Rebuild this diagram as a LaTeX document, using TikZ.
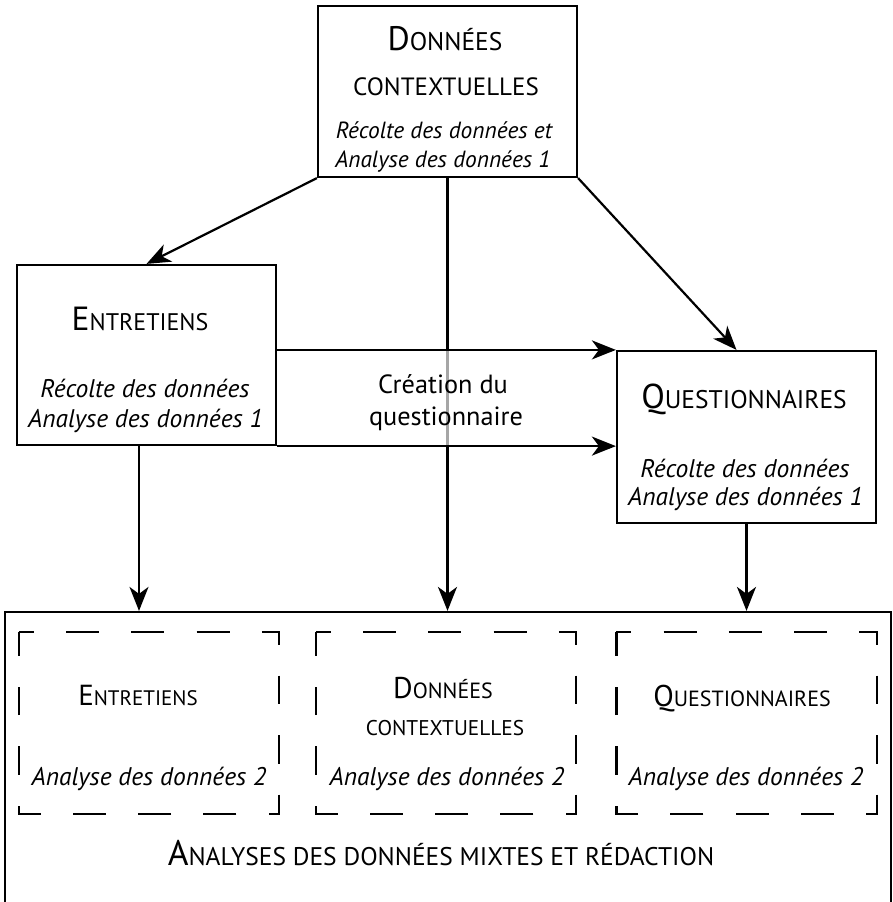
\documentclass[tikz,border=0pt]{standalone}
\usepackage{fontspec}
\setmainfont{PT Sans}
\usetikzlibrary{arrows.meta}
\newcommand{\mycaps}[4]{{\fontsize{#1}{#1}\selectfont #3}{\fontsize{#2}{#2}\selectfont #4}}
\begin{document}
\begin{tikzpicture}[x=1pt,y=-1pt,line width=2.2pt,
  box/.style={draw,line width=2.2pt,inner sep=0pt,minimum width=259pt},
  hold/.style={inner sep=0pt,minimum width=258pt,minimum height=180pt},
  arr/.style={-{Stealth[length=24pt,width=19pt,inset=7pt]},line width=2.2pt},
  ital/.style={anchor=base,inner sep=0pt,font=\fontsize{25.5}{25.5}\selectfont\itshape},
  itsm/.style={anchor=base,inner sep=0pt,font=\fontsize{23.4}{23.4}\selectfont\itshape},
  ttl/.style={anchor=base,inner sep=0pt},
  plain/.style={anchor=base,inner sep=0pt,font=\fontsize{26.3}{26.3}\selectfont},
  dbox/.style={draw,line width=2.2pt,dash pattern=on 30pt off 32.25pt on 33pt off 32.25pt on 33pt off 32.25pt on 33pt off 32.25pt on 30pt off 31pt on 28.5pt off 31pt on 28.5pt off 31pt,dash phase=15pt}]
\useasboundingbox (0,0) rectangle (893,902);
\clip (0,0) rectangle (893,902);

% main boxes
\node[box,minimum height=171pt] (ctx) at (447.5,91.5) {};
\node[box,minimum height=180pt] (ent) at (146.5,355) {};
\node[box,minimum height=172pt] (que) at (746.5,437) {};
\node[box,minimum width=886pt,minimum height=360pt] (big) at (448,792) {};

% texts in top boxes
\node[ttl] (ctxa) at (445,50) {\mycaps{34}{25.5}{D}{ONNÉES}};
\node[ttl] (ctxb) at (446,95) {\mycaps{25}{25}{}{CONTEXTUELLES}};
\node[itsm] (ctxc) at (444,138) {Récolte des données et};
\node[itsm] (ctxd) at (443,167) {Analyse des données 1};

\node[ttl] (enta) at (140,330) {\mycaps{33.5}{24}{E}{NTRETIENS}};
\node[ital] (entb) at (145,397) {Récolte des données};
\node[ital] (entc) at (145.5,427) {Analyse des données 1};

\node[ttl] (quea) at (744,408) {\mycaps{34.5}{25.5}{Q}{UESTIONNAIRES}};
\node[ital] (queb) at (745,477) {Récolte des données};
\node[ital] (quec) at (745.5,505) {Analyse des données 1};

% connectors
\draw[arr] (ctx.south west) -- (ent.north);
\draw[arr] (ctx.south east) -- ([xshift=-10pt]que.north);
\draw (ctx.south) -- (ctx.south |- que.north west);
\draw[black!35] (ctx.south |- que.north west) -- (ctx.south |- ent.south);
\draw[arr] (ctx.south |- ent.south) -- (ctx.south |- big.north);
\draw[arr] (ent.east |- que.north west) -- (que.north west);
\draw[arr] (ent.south east) -- (que.west |- ent.south east);
\draw[arr] ([xshift=-7.5pt]ent.south) -- ([xshift=-7.5pt]ent.south |- big.north);
\draw[arr] (que.south) -- (que.south |- big.north);

\node[plain] (crea) at (443,393) {Création du};
\node[plain] (creb) at (446,425) {questionnaire};

% dashed boxes
\node[hold] (d1) at (149,723) {};
\node[hold] (d2) at (446,723) {};
\node[hold] (d3) at (746.5,723) {};
\draw[dbox] (d1.north west) -- (d1.north east) -- (d1.south east) -- (d1.south west) -- cycle;
\draw[dbox] (d2.north west) -- (d2.north east) -- (d2.south east) -- (d2.south west) -- cycle;
\draw[dbox] (d3.north west) -- (d3.north east) -- (d3.south east) -- (d3.south west) -- cycle;

\node[ttl] (d1a) at (138,705) {\mycaps{29}{21}{E}{NTRETIENS}};
\node[ital] (d1b) at (149,785) {Analyse des données 2};
\node[ttl] (d2a) at (443,698) {\mycaps{30}{22}{D}{ONNÉES}};
\node[ttl] (d2b) at (445,735) {\mycaps{21.3}{21.3}{}{CONTEXTUELLES}};
\node[ital] (d2c) at (447,785) {Analyse des données 2};
\node[ttl] (d3a) at (742,706) {\mycaps{30}{22}{Q}{UESTIONNAIRES}};
\node[ital] (d3b) at (746,785) {Analyse des données 2};

\node[ttl] (bt) at (441,865) {\mycaps{35.5}{25.5}{A}{NALYSES DES DONNÉES MIXTES ET RÉDACTION}};
\end{tikzpicture}
\end{document}
